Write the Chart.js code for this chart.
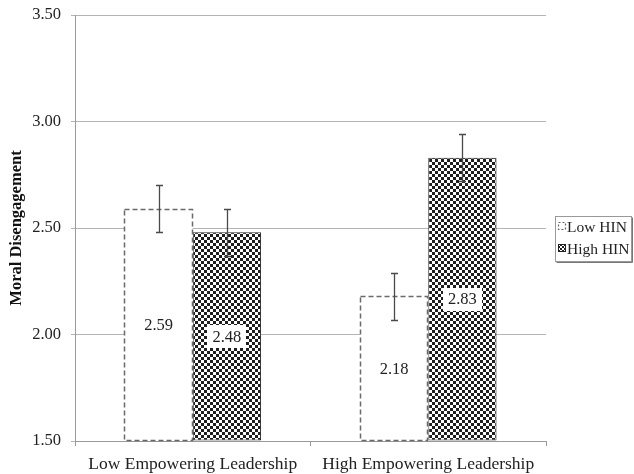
<!DOCTYPE html>
<html>
<head>
<meta charset="utf-8">
<script src="https://cdn.jsdelivr.net/npm/chart.js@4/dist/chart.umd.min.js"></script>
<style>
  html, body { margin: 0; padding: 0; background: #fff; }
  #wrap { width: 634px; height: 474px; }
</style>
</head>
<body>
<div id="wrap"><canvas id="chart" width="634" height="474"></canvas></div>
<script>
// Group means of moral disengagement
const categories = ['Low Empowering Leadership', 'High Empowering Leadership'];
const seriesNames = ['Low HIN', 'High HIN'];
const lowHIN = [2.59, 2.18];
const highHIN = [2.48, 2.83];
// half-length of each error bar
const lowHINError = [0.11, 0.11];
const highHINError = [0.11, 0.11];
const yTicks = [1.5, 2.0, 2.5, 3.0, 3.5];
const yMin = 1.5;
const yMax = 3.5;

const SERIF = '"Liberation Serif", "Times New Roman", serif';
const TEXT = '#222';

function checkerPattern(cell) {
  const c = document.createElement('canvas');
  c.width = cell * 2; c.height = cell * 2;
  const g = c.getContext('2d');
  g.fillStyle = '#fff';
  g.fillRect(0, 0, cell * 2, cell * 2);
  g.fillStyle = '#1e1e1e';
  g.fillRect(0, 0, cell, cell);
  g.fillRect(cell, cell, cell, cell);
  return g.createPattern(c, 'repeat');
}
const checker = checkerPattern(3);
const checkerSmall = checkerPattern(2);

// dashed outline for the open bars (bar elements only fill their borders)
const dashedBars = {
  id: 'dashedBars',
  afterDatasetsDraw(chart) {
    const ctx = chart.ctx;
    chart.data.datasets.forEach((ds, i) => {
      if (!ds.dashed) return;
      chart.getDatasetMeta(i).data.forEach(bar => {
        const p = bar.getProps(['x', 'y', 'base', 'width'], true);
        const l = Math.round(p.x - p.width / 2) + 0.5;
        const r = Math.round(p.x + p.width / 2) - 0.5;
        const t = Math.round(p.y) + 0.5;
        const b = Math.round(p.base) - 0.5;
        ctx.save();
        ctx.strokeStyle = '#6a6a6a';
        ctx.lineWidth = 1.5;
        ctx.setLineDash([5, 3]);
        ctx.strokeRect(l, t, r - l, b - t);
        ctx.restore();
      });
    });
  }
};

// value labels at bar centres and error bars
const annotations = {
  id: 'annotations',
  afterDatasetsDraw(chart) {
    const ctx = chart.ctx;
    const yScale = chart.scales.y;
    chart.data.datasets.forEach((ds, i) => {
      chart.getDatasetMeta(i).data.forEach((bar, j) => {
        const p = bar.getProps(['x', 'y', 'base'], true);
        const v = ds.data[j];
        const cy = (p.y + p.base) / 2;
        const txt = v.toFixed(2);
        ctx.save();
        ctx.font = '16.5px ' + SERIF;
        const w = ctx.measureText(txt).width;
        if (!ds.dashed) {
          ctx.fillStyle = '#fff';
          ctx.fillRect(Math.round(p.x - w / 2 - 5), Math.round(cy - 11), Math.round(w + 10), 23);
        }
        ctx.fillStyle = TEXT;
        ctx.textAlign = 'center';
        ctx.textBaseline = 'middle';
        ctx.fillText(txt, p.x, cy + 1);
        ctx.restore();
      });
    });
    chart.data.datasets.forEach((ds, i) => {
      chart.getDatasetMeta(i).data.forEach((bar, j) => {
        const x = Math.round(bar.x) + 0.5;
        const v = ds.data[j], e = ds.errors[j];
        const yt = Math.round(yScale.getPixelForValue(v + e)) + 0.5;
        const yb = Math.round(yScale.getPixelForValue(v - e)) + 0.5;
        ctx.save();
        ctx.strokeStyle = '#4a4a4a';
        ctx.lineWidth = 1.3;
        ctx.beginPath();
        ctx.moveTo(x, yt); ctx.lineTo(x, yb);
        ctx.moveTo(x - 3.5, yt); ctx.lineTo(x + 3.5, yt);
        ctx.moveTo(x - 3.5, yb); ctx.lineTo(x + 3.5, yb);
        ctx.stroke();
        ctx.restore();
      });
    });
  }
};

// boxed legend at the right of the plot
const boxedLegend = {
  id: 'boxedLegend',
  afterDraw(chart) {
    const ctx = chart.ctx;
    const bx = chart.chartArea.right + 9.5, by = 216.5, bw = 76, bh = 45;
    ctx.save();
    ctx.strokeStyle = '#999';
    ctx.lineWidth = 1;
    ctx.strokeRect(bx, by, bw, bh);
    ctx.strokeStyle = '#777';
    ctx.beginPath();
    ctx.moveTo(bx + bw + 1, by + 1); ctx.lineTo(bx + bw + 1, by + bh + 1); ctx.lineTo(bx + 1, by + bh + 1);
    ctx.stroke();
    ctx.font = '15.5px ' + SERIF;
    ctx.textBaseline = 'middle';
    chart.data.datasets.forEach((ds, i) => {
      const cy = by + 10 + i * 22;
      const ix = bx + 2.5;
      if (ds.dashed) {
        ctx.save();
        ctx.strokeStyle = '#666';
        ctx.lineWidth = 1.2;
        ctx.setLineDash([2, 2]);
        ctx.strokeRect(ix + 0.5, cy - 4, 7, 7);
        ctx.restore();
      } else {
        ctx.fillStyle = checkerSmall;
        ctx.fillRect(ix, cy - 4.5, 8, 8);
        ctx.strokeStyle = '#222';
        ctx.strokeRect(ix + 0.5, cy - 4, 7, 7);
      }
      ctx.fillStyle = TEXT;
      ctx.fillText(ds.label, ix + 9, cy + 1);
    });
    ctx.restore();
  }
};

new Chart(document.getElementById('chart'), {
  type: 'bar',
  data: {
    labels: categories,
    datasets: [
      {
        label: seriesNames[0],
        data: lowHIN,
        errors: lowHINError,
        dashed: true,
        base: yMin,
        backgroundColor: '#fff',
        borderWidth: 0
      },
      {
        label: seriesNames[1],
        data: highHIN,
        errors: highHINError,
        base: yMin,
        backgroundColor: checker,
        borderColor: '#2a2a2a',
        borderWidth: 1,
        borderSkipped: false
      }
    ]
  },
  options: {
    responsive: false,
    animation: false,
    devicePixelRatio: 1,
    categoryPercentage: 0.58,
    barPercentage: 1.0,
    layout: { padding: { left: 0, top: 15, right: 88, bottom: 0 } },
    plugins: {
      legend: { display: false },
      tooltip: { enabled: false }
    },
    scales: {
      x: {
        offset: true,
        grid: { display: true, drawOnChartArea: false, drawTicks: true, tickLength: 5, offset: true, color: '#999' },
        border: { display: true, color: '#999' },
        ticks: { color: TEXT, font: { family: SERIF, size: 17.5 }, padding: 8, maxRotation: 0 },
        afterFit(s) { s.height = 33; s.paddingLeft = 0; s.paddingRight = 0; }
      },
      y: {
        min: yMin,
        max: yMax,
        afterBuildTicks(s) { s.ticks = yTicks.map(v => ({ value: v })); },
        grid: { color: '#b4b4b4', tickLength: 4, drawTicks: true },
        border: { display: true, color: '#999' },
        ticks: {
          color: TEXT,
          font: { family: SERIF, size: 16.5 },
          padding: 10,
          callback: v => Number(v).toFixed(2)
        },
        title: {
          display: true,
          text: 'Moral Disengagement',
          color: '#111',
          font: { family: SERIF, size: 16.5, weight: 'bold' },
          padding: { top: 7, bottom: 0 }
        },
        afterFit(s) { s.width = 75; s.paddingTop = 0; s.paddingBottom = 0; }
      }
    }
  },
  plugins: [dashedBars, annotations, boxedLegend]
});
</script>
</body>
</html>
